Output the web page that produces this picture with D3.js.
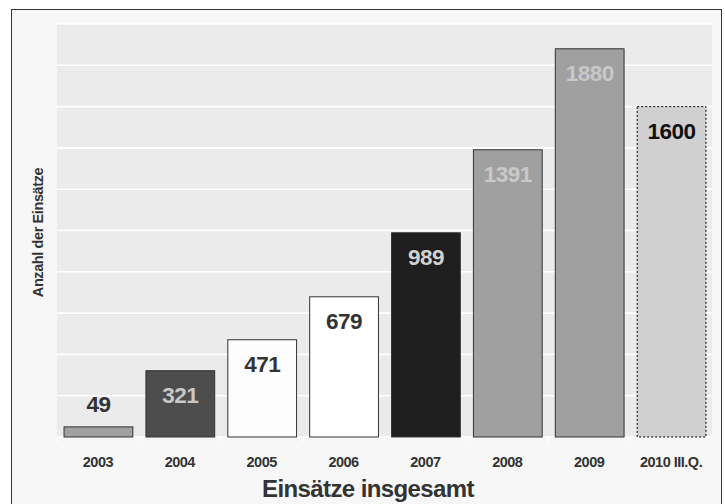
<!DOCTYPE html>
<html>
<head>
<meta charset="utf-8">
<script src="https://cdn.jsdelivr.net/npm/d3@7"></script>
<style>
html,body{margin:0;padding:0;background:#fff;}
svg{display:block;font-family:"Liberation Sans",Arial,Helvetica,sans-serif;}
</style>
</head>
<body>
<svg id="chart" width="725" height="504"></svg>
<script>
const categories = ["2003","2004","2005","2006","2007","2008","2009","2010 III.Q."];
const values = [49, 321, 471, 679, 989, 1391, 1880, 1600];
const yTicks = [0,200,400,600,800,1000,1200,1400,1600,1800,2000];
const barFills = ["#a0a0a0","#4d4d4d","#fdfdfd","#ffffff","#1e1e1e","#a0a0a0","#a0a0a0","#d0d0d0"];
const labelColors = ["#333333","#c8c8c8","#333333","#333333","#d0d0d0","#c8c8c8","#c8c8c8","#111111"];
const yTitle = "Anzahl der Einsätze";
const xTitle = "Einsätze insgesamt";

const svg = d3.select("#chart");
const panel = {left: 57, right: 712, top: 24, bottom: 437};

// outer frame
svg.append("rect").attr("x", 11.5).attr("y", 9.5).attr("width", 710).attr("height", 500)
  .attr("fill", "#f7f7f7").attr("stroke", "#333").attr("stroke-width", 1);

// panel
svg.append("rect").attr("x", panel.left).attr("y", panel.top)
  .attr("width", panel.right - panel.left).attr("height", panel.bottom - panel.top)
  .attr("fill", "#ebebeb");

const x = d3.scaleBand().domain(categories).range([panel.left, panel.right])
  .paddingInner(0.16).paddingOuter(0.08);
const xb = d3.scaleBand().domain(categories).range([panel.left, panel.right]).padding(0);
const y = d3.scaleLinear().domain([0, 2000]).range([panel.bottom, panel.top]);

// gridlines
svg.append("g").selectAll("line").data(yTicks).join("line")
  .attr("x1", panel.left).attr("x2", panel.right)
  .attr("y1", d => y(d)).attr("y2", d => y(d))
  .attr("stroke", "#ffffff").attr("stroke-width", 1.6);

// x ticks at band boundaries (white)
const bounds = categories.map(c => xb(c)).concat([panel.right]);
svg.append("g").selectAll("line").data(bounds).join("line")
  .attr("x1", d => d).attr("x2", d => d)
  .attr("y1", panel.bottom).attr("y2", panel.bottom + 5)
  .attr("stroke", "#ffffff").attr("stroke-width", 1.5);

// bars
const data = categories.map((c, i) => ({c, v: values[i], i}));
svg.append("g").selectAll("rect").data(data).join("rect")
  .attr("x", d => x(d.c) + 0.5)
  .attr("y", d => y(d.v))
  .attr("width", x.bandwidth())
  .attr("height", d => y(0) - y(d.v))
  .attr("fill", d => barFills[d.i])
  .attr("stroke", d => d.i === categories.length - 1 ? "#000" : "#333")
  .attr("stroke-width", 1)
  .attr("stroke-dasharray", d => d.i === categories.length - 1 ? "2,2" : null);

// value labels
svg.append("g").selectAll("text").data(data).join("text")
  .attr("x", d => x(d.c) + x.bandwidth() / 2 + 0.5)
  .attr("y", d => (y(0) - y(d.v)) < 40 ? y(d.v) - 15 : y(d.v) + 32)
  .attr("text-anchor", "middle")
  .attr("font-size", "22.5px").attr("font-weight", "bold")
  .attr("letter-spacing", "-0.5px")
  .attr("fill", d => labelColors[d.i])
  .text(d => d.v);

// x axis labels
svg.append("g").selectAll("text").data(categories).join("text")
  .attr("x", d => x(d) + x.bandwidth() / 2)
  .attr("y", 467.3)
  .attr("text-anchor", "middle")
  .attr("font-size", "14.5px").attr("font-weight", "bold")
  .attr("fill", "#333")
  .attr("letter-spacing", "-0.5px")
  .text(d => d);

// axis titles
svg.append("text").attr("x", 368).attr("y", 496.7)
  .attr("text-anchor", "middle").attr("font-size", "24px").attr("font-weight", "bold")
  .attr("letter-spacing", "-0.6px")
  .attr("fill", "#333").text(xTitle);

svg.append("text").attr("transform", "translate(43,232.5) rotate(-90)")
  .attr("text-anchor", "middle").attr("font-size", "14.5px").attr("font-weight", "bold")
  .attr("letter-spacing", "-0.4px")
  .attr("fill", "#333").text(yTitle);
</script>
</body>
</html>
